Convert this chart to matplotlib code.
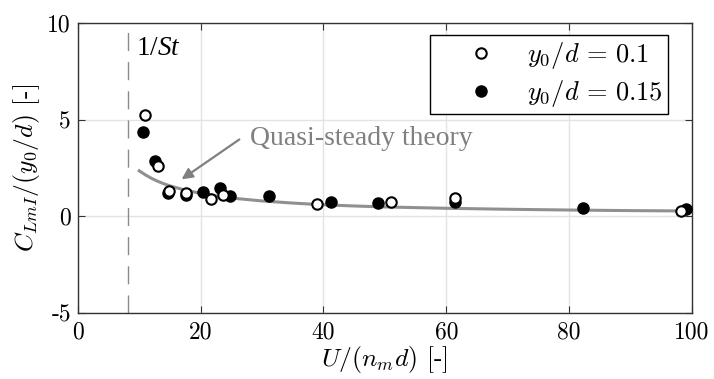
import matplotlib
matplotlib.use("Agg")
import matplotlib.pyplot as plt

plt.rcParams['font.family'] = 'cmr10'
plt.rcParams['mathtext.fontset'] = 'cm'
plt.rcParams['axes.unicode_minus'] = False
# custom math fonts, used only for the "1/St" label
plt.rcParams['mathtext.rm'] = 'Liberation Serif'
plt.rcParams['mathtext.it'] = 'Liberation Serif:italic'

# y0/d = 0.1 (open)
x_open = [10.9, 13.0, 14.9, 17.6, 21.7, 23.7, 38.9, 51.0, 61.4, 98.3]
y_open = [5.24, 2.60, 1.32, 1.22, 0.90, 1.10, 0.64, 0.76, 0.93, 0.27]

# y0/d = 0.15 (filled)
x_fill = [10.6, 12.5, 14.7, 17.6, 20.4, 23.2, 24.8, 31.1, 41.3, 48.9, 61.4, 82.3, 99.0]
y_fill = [4.35, 2.88, 1.19, 1.10, 1.27, 1.48, 1.05, 1.07, 0.72, 0.70, 0.72, 0.45, 0.39]

# quasi-steady theory curve
x_qs = [10, 11, 12, 13, 14, 15, 17, 20, 23, 26, 30, 35, 40, 45, 50, 60, 70, 80, 90, 100]
y_qs = [2.36, 2.15, 1.97, 1.82, 1.69, 1.58, 1.40, 1.19, 1.04, 0.92, 0.80, 0.69, 0.60, 0.54, 0.49, 0.42, 0.37, 0.33, 0.30, 0.28]

x_st = 8.1

fig = plt.figure(figsize=(7.14, 3.79), dpi=100)
ax = fig.add_axes([0.109, 0.174, 0.860, 0.765])

ax.axvline(x_st, color='#8a8a8a', lw=1.0, dashes=(13, 8), zorder=1)
ax.plot(x_qs, y_qs, color='#909090', lw=2.2, zorder=2)
ax.plot(x_open, y_open, 'o', mfc='white', mec='black', mew=1.5, ms=7.5,
        label=r'$y_0/d\,=\,0.1$', zorder=4)
ax.plot(x_fill, y_fill, 'o', mfc='black', mec='black', ms=8,
        label=r'$y_0/d\,=\,0.15$', zorder=3)

ax.annotate('', xy=(16.9, 1.92), xytext=(26.3, 3.98),
            arrowprops=dict(arrowstyle='-|>', color='#808080', lw=1.6,
                            mutation_scale=16, shrinkA=0, shrinkB=0))
ax.text(28.0, 4.05, 'Quasi-steady theory', family='Liberation Serif',
        fontsize=20, color='#808080', va='center', ha='left')
ax.text(9.5, 8.7, r'1/$\mathit{St}$', family='Liberation Serif',
        math_fontfamily='custom', fontsize=19.5, va='center', ha='left')

ax.set_xlim(0, 100)
ax.set_ylim(-5, 10)
ax.set_xticks([0, 20, 40, 60, 80, 100])
ax.set_yticks([-5, 0, 5, 10])
ax.grid(True, color='#e3e3e3', lw=1.0)
ax.set_axisbelow(True)
ax.tick_params(direction='in', top=True, right=True, labelsize=17, length=5,
               color='#333333')
ax.tick_params(axis='x', pad=6)
ax.tick_params(axis='y', pad=5)
for s in ax.spines.values():
    s.set_color('#333333')
    s.set_linewidth(1.0)

ax.set_xlabel(r'$U/(n_m d)$ [-]', fontsize=18.5, labelpad=0)
ax.set_ylabel(r'$C_{LmI}/(y_0/d)$ [-]', fontsize=18.5, labelpad=4)

leg = ax.legend(loc='upper right', bbox_to_anchor=(0.961, 0.959),
                borderaxespad=0, fontsize=19, fancybox=False,
                edgecolor='black', framealpha=1, handletextpad=0.05,
                borderpad=0.2, labelspacing=0.25, handlelength=3.4)
leg.get_frame().set_linewidth(1.0)

fig.savefig('out.png', dpi=100)
